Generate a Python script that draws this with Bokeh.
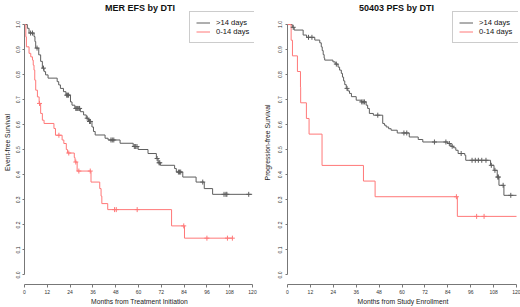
import numpy as np
from bokeh.plotting import figure
from bokeh.layouts import row
from bokeh.models import (Range1d, FixedTicker, PrintfTickFormatter, Legend, LegendItem, Label)
from bokeh.embed import file_html
from bokeh.resources import INLINE

# ---------------- data ----------------
x_ticks = [0, 12, 24, 36, 48, 60, 72, 84, 96, 108, 120]
y_ticks = [0.0, 0.1, 0.2, 0.3, 0.4, 0.5, 0.6, 0.7, 0.8, 0.9, 1.0]
series_labels = [">14 days", "0-14 days"]

# MER EFS, >14 days
mer_long_t = [0, 1.5, 2.4, 5.0, 5.5, 5.9, 7.5, 8.5, 9.4, 10.3, 11.1, 12.4, 17.2, 18.0, 18.9, 20.5, 21.8,
              24.2, 25.0, 26.5, 29.4, 31.1, 32.5, 33.7, 35.5, 36.3, 37.2, 42.4, 44.0, 50.3, 57.2, 59.8,
              65.0, 69.4, 70.3, 71.5, 79.0, 79.9, 83.3, 90.3, 94.6, 99.0, 119.8]
mer_long_s = [1.0, 0.985, 0.966, 0.952, 0.932, 0.906, 0.879, 0.853, 0.826, 0.812, 0.799, 0.786, 0.772,
              0.759, 0.745, 0.732, 0.718, 0.691, 0.678, 0.665, 0.652, 0.639, 0.626, 0.613, 0.591, 0.573,
              0.559, 0.546, 0.539, 0.526, 0.513, 0.501, 0.485, 0.465, 0.448, 0.438, 0.425, 0.411, 0.391,
              0.371, 0.345, 0.322, 0.322]
mer_long_cens = [3.2, 4.2, 6.6, 10.0, 22.2, 22.7, 23.2, 27.0, 27.5, 28.0, 28.6, 29.0, 33.0, 34.2, 34.7,
                 45.5, 46.2, 47.0, 57.8, 58.5, 59.2, 69.8, 70.8, 71.2, 81.0, 81.6, 82.2, 93.8, 105.0,
                 106.0, 106.5, 118.0]

# MER EFS, 0-14 days
mer_short_t = [0, 0.7, 1.0, 2.4, 3.3, 4.2, 4.6, 5.0, 5.4, 5.9, 6.8, 7.7, 8.5, 9.4, 10.3, 15.5, 16.3,
               19.8, 20.7, 22.0, 22.6, 26.2, 26.6, 27.7, 35.0, 39.6, 40.3, 40.7, 43.8, 77.4, 84.2, 109.4]
mer_short_s = [1.0, 0.951, 0.911, 0.885, 0.871, 0.858, 0.838, 0.818, 0.778, 0.738, 0.711, 0.685, 0.645,
               0.618, 0.605, 0.585, 0.558, 0.539, 0.525, 0.501, 0.487, 0.469, 0.451, 0.415, 0.371, 0.345,
               0.315, 0.285, 0.261, 0.196, 0.147, 0.147]
mer_short_cens = [7.9, 18.1, 23.3, 27.0, 28.6, 34.6, 47.4, 48.3, 59.3, 83.8, 96.0, 106.8, 109.4]

# 50403 PFS, >14 days
pfs_long_t = [0, 2.5, 3.5, 8.2, 10.0, 14.3, 16.9, 17.7, 18.2, 18.7, 19.2, 19.5, 23.8, 25.0, 26.5, 27.3,
              28.2, 28.8, 29.4, 30.0, 30.8, 31.6, 32.5, 33.5, 36.0, 38.6, 41.2, 42.0, 42.9, 45.0, 49.9,
              50.8, 51.7, 53.0, 54.3, 57.5, 63.8, 68.5, 70.9, 84.0, 85.6, 87.0, 88.2, 89.4, 92.9, 93.4,
              106.4, 108.2, 109.9, 110.8, 113.4, 120.0]
pfs_long_s = [1.0, 0.989, 0.978, 0.958, 0.949, 0.938, 0.927, 0.911, 0.896, 0.880, 0.866, 0.858, 0.851,
              0.842, 0.830, 0.818, 0.805, 0.790, 0.775, 0.760, 0.745, 0.735, 0.725, 0.712, 0.698, 0.691,
              0.678, 0.665, 0.645, 0.638, 0.605, 0.598, 0.591, 0.584, 0.578, 0.567, 0.551, 0.541, 0.531,
              0.525, 0.514, 0.508, 0.498, 0.485, 0.478, 0.458, 0.438, 0.418, 0.391, 0.358, 0.318, 0.318]
pfs_long_cens = [3.0, 11.0, 12.8, 25.6, 31.2, 38.9, 39.6, 40.3, 47.3, 61.0, 62.5, 77.0, 83.0, 84.8, 86.3,
                 91.0, 96.7, 98.4, 100.0, 101.8, 104.0, 106.8, 108.7, 110.2, 110.5, 113.0, 117.0]

# 50403 PFS, 0-14 days
pfs_short_t = [0, 1.9, 2.6, 5.2, 6.8, 6.9, 9.9, 11.3, 18.1, 39.8, 45.9, 89.0, 120.0]
pfs_short_s = [1.0, 0.9375, 0.875, 0.8125, 0.75, 0.6875, 0.625, 0.5625, 0.4375, 0.375, 0.3125, 0.234, 0.234]
pfs_short_cens = [88.5, 99.1, 103.0]

BLACK = "#5e5e5e"
RED = "#ff7878"
FONT = "Liberation Sans"


def surv_at(ts, ss, tc):
    idx = np.searchsorted(np.array(ts), np.array(tc), side="right") - 1
    return list(np.array(ss)[idx])


def make_panel(title, title_x, xlabel, ylabel, left, right, tick_standoff, lab_standoff,
               long_t, long_s, long_c, short_t, short_s, short_c):
    p = figure(width=260, height=307, output_backend="svg", toolbar_location=None,
               x_range=Range1d(0, 121.04), y_range=Range1d(-0.038, 1.096),
               min_border_left=left, min_border_right=right, min_border_top=0, min_border_bottom=23,
               outline_line_color=None, background_fill_color="white", border_fill_color="white")
    p.grid.visible = False

    for ax in (p.xaxis[0], p.yaxis[0]):
        ax.axis_line_color = "#777777"
        ax.major_tick_line_color = "#777777"
        ax.minor_tick_line_color = None
        ax.major_tick_in = 0
        ax.major_label_text_font = FONT
        ax.major_label_text_font_size = "5px"
        ax.major_label_text_color = "#333333"
        ax.major_label_text_line_height = 0.8
        ax.axis_label_text_font = FONT
        ax.axis_label_text_font_size = "6.75px"
        ax.axis_label_text_font_style = "normal"
        ax.axis_label_text_color = "#222222"
        ax.axis_label_text_line_height = 0.8

    xa = p.xaxis[0]
    xa.ticker = FixedTicker(ticks=x_ticks)
    xa.bounds = (0, 120)
    xa.major_tick_out = 3
    xa.major_label_standoff = 2
    xa.axis_label = xlabel
    xa.axis_label_standoff = 1

    ya = p.yaxis[0]
    ya.ticker = FixedTicker(ticks=y_ticks)
    ya.formatter = PrintfTickFormatter(format="%.1f")
    ya.bounds = (0, 1)
    ya.major_tick_out = 2
    ya.major_label_standoff = tick_standoff
    ya.major_label_orientation = "parallel"
    ya.axis_label = ylabel
    ya.axis_label_standoff = lab_standoff

    r_long = p.step(long_t, long_s, mode="after", line_color=BLACK, line_width=1)
    r_short = p.step(short_t, short_s, mode="after", line_color=RED, line_width=1)
    p.scatter(long_c, surv_at(long_t, long_s, long_c), marker="cross", size=5,
              line_color=BLACK, line_width=1)
    p.scatter(short_c, surv_at(short_t, short_s, short_c), marker="cross", size=5,
              line_color=RED, line_width=1)

    legend = Legend(items=[LegendItem(label=series_labels[0], renderers=[r_long]),
                           LegendItem(label=series_labels[1], renderers=[r_short])],
                    location=(165, 241), orientation="vertical",
                    border_line_color="#999999", border_line_width=1,
                    background_fill_color="white", background_fill_alpha=1.0,
                    padding=6, spacing=0, margin=0, label_height=9, glyph_height=9, glyph_width=14,
                    label_standoff=6, label_text_font=FONT, label_text_font_size="7.6px",
                    label_text_color="#111111")
    p.add_layout(legend)

    p.add_layout(Label(x=title_x, y=277, x_units="screen", y_units="screen", text=title,
                       text_align="center", text_baseline="middle", text_font=FONT,
                       text_font_size="9px", text_font_style="bold", text_color="#111111"))
    return p


p1 = make_panel("MER EFS by DTI", 115.5, "Months from Treatment Initiation", "Event-free Survival",
                22, 6, 2, 3, mer_long_t, mer_long_s, mer_long_cens,
                mer_short_t, mer_short_s, mer_short_cens)
p2 = make_panel("50403 PFS by DTI", 109, "Months from Study Enrollment", "Progression-free Survival",
                26, 2, 3, 5, pfs_long_t, pfs_long_s, pfs_long_cens,
                pfs_short_t, pfs_short_s, pfs_short_cens)

layout = row(p1, p2, spacing=0)
open("out.html", "w").write(file_html(layout, INLINE))
